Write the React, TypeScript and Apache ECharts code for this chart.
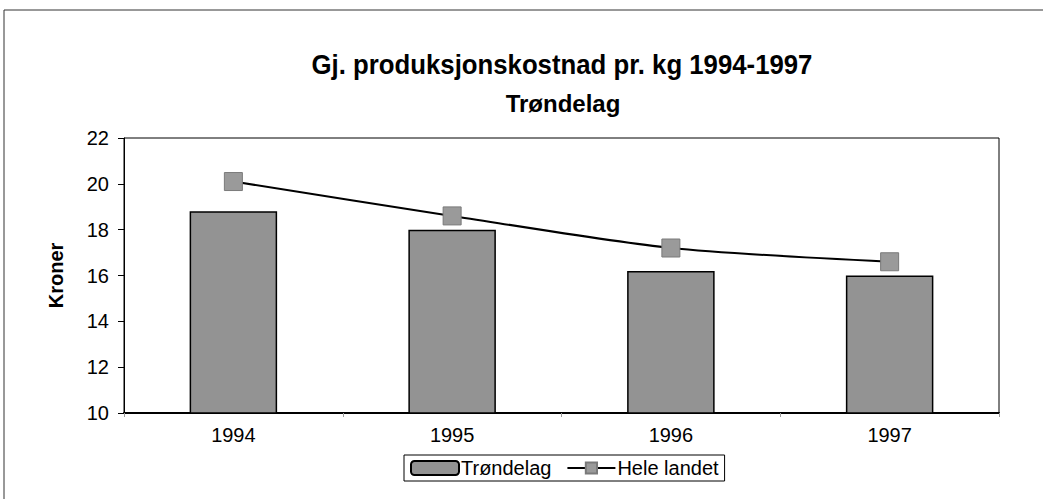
import React, { useEffect, useRef } from "react";
import * as echarts from "echarts";

const years = ["1994", "1995", "1996", "1997"];
const trondelag = [18.8, 18.0, 16.2, 16.0];
const heleLandet = [20.1, 18.6, 17.2, 16.6];
const yTicks = { min: 10, max: 22, interval: 2 };
const titleText = "Gj. produksjonskostnad pr. kg 1994-1997";
const subtitleText = "Trøndelag";

export default function App() {
  const ref = useRef<HTMLDivElement>(null);
  useEffect(() => {
    if (!ref.current) return;
    const chart = echarts.init(ref.current, null, { renderer: "svg" });
    const font = "'Liberation Sans', Arial, sans-serif";
    chart.setOption({
      animation: false,
      backgroundColor: "#ffffff",
      textStyle: { fontFamily: font, color: "#000" },
      graphic: [
        {
          type: "rect",
          shape: { x: 4, y: 10, width: 1050, height: 520 },
          style: { fill: "none", stroke: "#333", lineWidth: 1 },
          silent: true,
        },
        {
          type: "text",
          x: 562,
          y: 65,
          scaleX: 0.92,
          style: {
            text: titleText,
            font: `bold 28px ${font}`,
            fill: "#000",
            align: "center",
            verticalAlign: "middle",
          },
        },
        {
          type: "text",
          x: 563,
          y: 103,
          style: {
            text: subtitleText,
            font: `bold 24px ${font}`,
            fill: "#000",
            align: "center",
            verticalAlign: "middle",
          },
        },
      ],
      grid: {
        left: 124,
        right: 44,
        top: 138,
        bottom: 86,
        show: true,
        borderColor: "#000",
        borderWidth: 1,
        backgroundColor: "transparent",
      },
      legend: {
        left: 404,
        top: 455,
        itemGap: 15,
        itemWidth: 48,
        itemHeight: 14,
        padding: [3, 6, 3, 6],
        borderColor: "#000",
        borderWidth: 1,
        textStyle: { fontFamily: font, fontSize: 20, color: "#000", padding: [0, 0, 0, -3] },
        data: ["Trøndelag", "Hele landet"],
      },
      xAxis: {
        type: "category",
        data: years,
        axisLine: { show: true, lineStyle: { color: "#000", width: 2 } },
        axisTick: { show: true, inside: false, length: 4, lineStyle: { color: "#999" } },
        axisLabel: { fontFamily: font, fontSize: 20, color: "#000", margin: 12 },
      },
      yAxis: {
        type: "value",
        min: yTicks.min,
        max: yTicks.max,
        interval: yTicks.interval,
        name: "Kroner",
        nameLocation: "middle",
        nameRotate: 90,
        nameGap: 58,
        nameTextStyle: { fontFamily: font, fontSize: 20, fontWeight: "bold", color: "#000" },
        axisLine: { show: true, lineStyle: { color: "#000", width: 1 } },
        axisTick: { show: true, length: 6, lineStyle: { color: "#000" } },
        axisLabel: { fontFamily: font, fontSize: 20, color: "#000", margin: 15 },
        splitLine: { show: false },
      },
      series: [
        {
          name: "Trøndelag",
          type: "bar",
          data: trondelag,
          barWidth: "40%",
          itemStyle: { color: "#939393", borderColor: "#000", borderWidth: 1.5 },
        },
        {
          name: "Hele landet",
          type: "line",
          data: heleLandet,
          smooth: 0.25,
          symbol: "rect",
          symbolSize: 18,
          lineStyle: { color: "#000", width: 2 },
          itemStyle: { color: "#9a9a9a", borderColor: "#7a7a7a", borderWidth: 1 },
        },
      ],
    });
    return () => chart.dispose();
  }, []);
  return (
    <div
      ref={ref}
      style={{ position: "fixed", left: 0, top: 0, width: 1043, height: 499, background: "#fff" }}
    />
  );
}
